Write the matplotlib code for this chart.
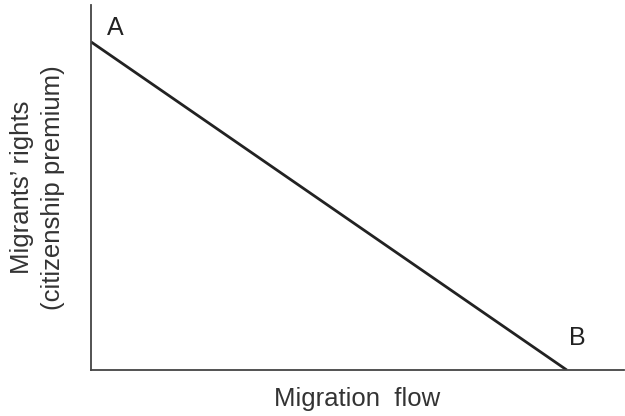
import matplotlib
matplotlib.use('Agg')
import matplotlib.pyplot as plt

# line from point A (on the y axis) to point B (on the x axis)
line_x = [0, 89.3]
line_y = [89.9, 0]
point_labels = ['A', 'B']
label_x = [4.5, 91.2]
label_y = [93.7, 8.8]

plt.rcParams['font.family'] = ['Liberation Sans', 'DejaVu Sans']

fig = plt.figure(figsize=(6.25, 4.16), dpi=100)
ax = fig.add_axes([0.1456, 0.1106, 0.8524, 0.8774])

ax.plot(line_x, line_y, color='#222222', linewidth=2.0, solid_capstyle='butt')
for name, x, y in zip(point_labels, label_x, label_y):
    ax.text(x, y, name, fontsize=18, color='#222222', ha='center', va='center')

ax.set_xlim(0, 100)
ax.set_ylim(0, 100)
ax.set_xticks([])
ax.set_yticks([])
ax.spines['top'].set_visible(False)
ax.spines['right'].set_visible(False)
for s in ['left', 'bottom']:
    ax.spines[s].set_color('#444444')
    ax.spines[s].set_linewidth(1.3)

ax.set_xlabel('Migration  flow', fontsize=18.5, color='#333333', labelpad=12)
ax.set_ylabel('Migrants\u2019 rights\n(citizenship premium)', fontsize=18.5,
              color='#333333', labelpad=19, linespacing=1.35)

fig.savefig('out.png', dpi=100)
